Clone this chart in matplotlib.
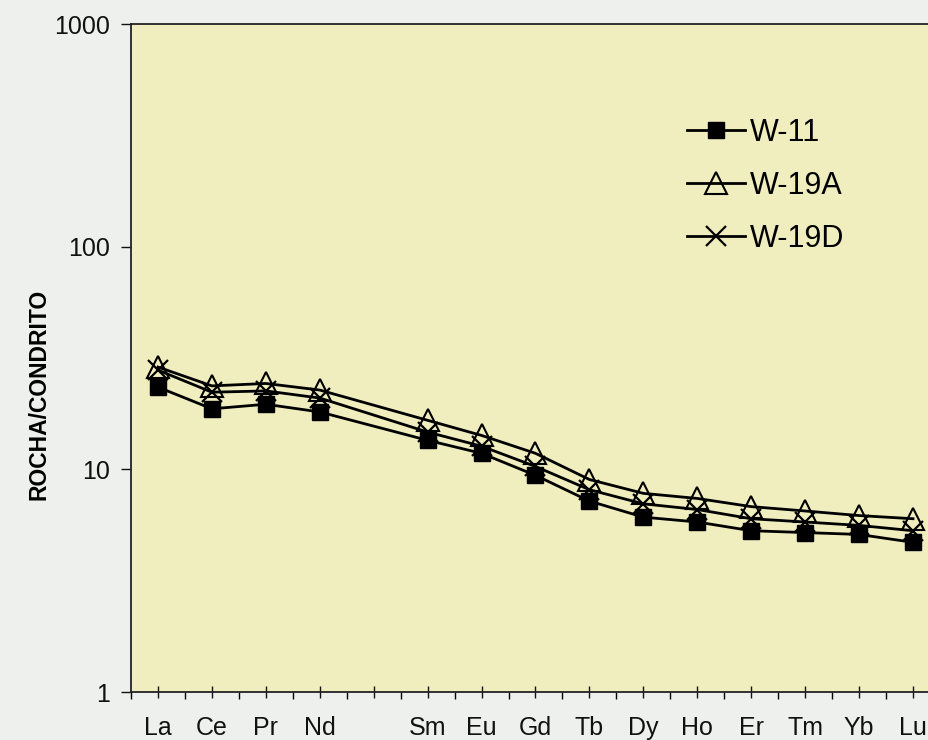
import matplotlib.pyplot as plt
from matplotlib.ticker import FixedLocator, NullLocator, NullFormatter

# REE elements (Pm left out, its slot stays empty)
elements = ['La', 'Ce', 'Pr', 'Nd', '', 'Sm', 'Eu', 'Gd', 'Tb', 'Dy', 'Ho', 'Er', 'Tm', 'Yb', 'Lu']
xpos = [0, 1, 2, 3, 5, 6, 7, 8, 9, 10, 11, 12, 13, 14]

w11 = [23.4, 18.7, 19.6, 18.1, 13.5, 11.8, 9.4, 7.2, 6.1, 5.8, 5.3, 5.2, 5.1, 4.7]
w19a = [28.8, 23.7, 24.3, 22.7, 16.6, 14.2, 11.8, 9.0, 7.8, 7.4, 6.8, 6.5, 6.2, 6.0]
w19d = [27.9, 22.2, 22.5, 20.9, 14.7, 12.7, 10.3, 8.1, 7.0, 6.6, 6.0, 5.8, 5.6, 5.3]

plt.rcParams['font.family'] = ['Liberation Sans', 'DejaVu Sans']

fig = plt.figure(figsize=(9.29, 7.40), dpi=100)
fig.patch.set_facecolor('#eef0ee')
ax = fig.add_axes([131 / 929, 48 / 740, 809 / 929, 668 / 740])
ax.set_facecolor('#f0edbf')

ax.plot(xpos, w19a, color='black', lw=2, marker='^', ms=16, mfc='none',
        mec='black', mew=1.5, label='W-19A', zorder=3)
ax.plot(xpos, w19d, color='black', lw=2, marker='x', ms=15,
        mew=1.6, label='W-19D', zorder=3)
ax.plot(xpos, w11, color='black', lw=2, marker='s', ms=12,
        mfc='black', mec='black', label='W-11', zorder=4)

ax.set_yscale('log')
ax.set_ylim(1, 1000)
ax.set_xlim(-0.5, 14.5)
ax.yaxis.set_major_locator(FixedLocator([1, 10, 100, 1000]))
ax.yaxis.set_minor_locator(NullLocator())
ax.yaxis.set_minor_formatter(NullFormatter())
ax.set_yticklabels(['1', '10', '100', '1000'])

ax.xaxis.set_major_locator(FixedLocator(list(range(15))))
ax.set_xticklabels(elements)
ax.xaxis.set_minor_locator(FixedLocator([i + 0.5 for i in range(-1, 15)]))

ax.tick_params(axis='y', which='major', direction='out', length=7, width=1,
               labelsize=18, pad=8, colors='#111111')
ax.tick_params(axis='x', which='major', direction='inout', length=9, width=1,
               labelsize=18, pad=13, colors='#111111')
ax.tick_params(axis='x', which='minor', direction='out', length=5, width=1)

for side in ['left', 'bottom', 'top']:
    ax.spines[side].set_linewidth(1.3)
    ax.spines[side].set_color('#222222')
ax.spines['right'].set_visible(False)

ax.set_ylabel('ROCHA/CONDRITO', fontsize=16.5, fontweight='bold')
ax.yaxis.set_label_coords(-0.099, 0.445)

handles, labels = ax.get_legend_handles_labels()
order = [2, 0, 1]
ax.legend([handles[i] for i in order], [labels[i] for i in order],
          loc='upper left', bbox_to_anchor=(687 / 929, 1 - 118 / 740),
          bbox_transform=fig.transFigure, frameon=False, fontsize=22,
          handlelength=1.9, handletextpad=0.15, labelspacing=0.75,
          borderpad=0, borderaxespad=0)

fig.savefig('out.png', dpi=100, facecolor=fig.get_facecolor())
